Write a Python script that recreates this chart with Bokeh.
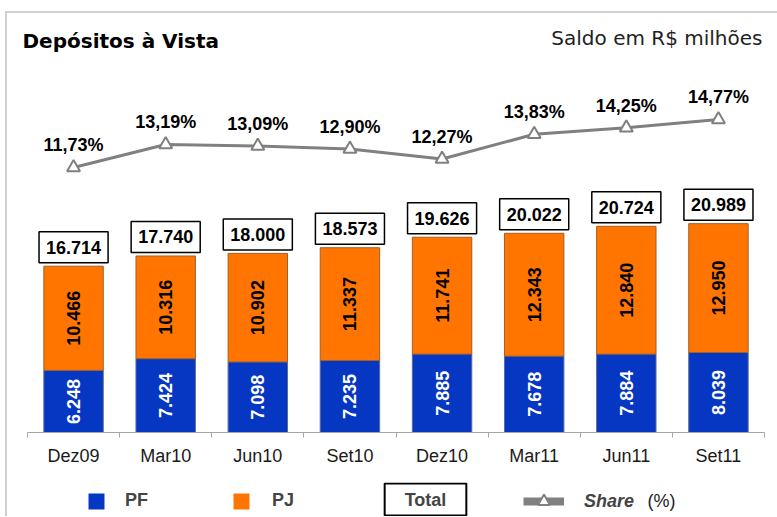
from bokeh.plotting import figure
from bokeh.layouts import column
from bokeh.models import (Range1d, LinearAxis, FixedTicker, Label, Legend,
                          LegendItem, ColumnDataSource)
from bokeh.core.properties import value
from bokeh.embed import file_html
from bokeh.resources import INLINE

# ---- data ----
categories = ["Dez09", "Mar10", "Jun10", "Set10", "Dez10", "Mar11", "Jun11", "Set11"]
pf = [6248, 7424, 7098, 7235, 7885, 7678, 7884, 8039]
pj = [10466, 10316, 10902, 11337, 11741, 12343, 12840, 12950]
total = [16714, 17740, 18000, 18573, 19626, 20022, 20724, 20989]
share = [11.73, 13.19, 13.09, 12.90, 12.27, 13.83, 14.25, 14.77]


def br_int(v):
    return f"{v:,}".replace(",", ".")


def br_pct(v):
    return f"{v:.2f}%".replace(".", ",")


BLUE = "#0537C3"
ORANGE = "#FF7500"
GRAY = "#808080"
NUM_FONT = "Liberation Sans"

xc = [i + 0.5 for i in range(len(categories))]
src = ColumnDataSource(dict(
    x=xc,
    pf=pf,
    stack=[a + b for a, b in zip(pf, pj)],
    total=total,
    share=share,
    pf_mid=[v / 2 for v in pf],
    pj_mid=[a + b / 2 for a, b in zip(pf, pj)],
    pf_lbl=[br_int(v) for v in pf],
    pj_lbl=[br_int(v) for v in pj],
    tot_lbl=[br_int(v) for v in total],
    sh_lbl=[br_pct(v) for v in share],
))

W, H1, H2 = 770, 469, 34
p = figure(width=W, height=H1, output_backend="svg", toolbar_location=None,
           x_range=Range1d(-0.217, 8.141), y_range=Range1d(0, 42110),
           min_border_left=0, min_border_right=0, min_border_top=0,
           min_border_bottom=50, x_axis_location=None, y_axis_location=None)
p.extra_y_ranges = {"share": Range1d(-5.05, 21.48)}
p.grid.visible = False
p.outline_line_color = None
p.background_fill_color = "white"
p.border_fill_color = "white"

# ---- axis ----
ax = LinearAxis(ticker=FixedTicker(ticks=xc, minor_ticks=list(range(len(categories) + 1))),
                major_label_overrides={x: c for x, c in zip(xc, categories)},
                bounds=(0, len(categories)))
ax.axis_line_color = "#a6a6a6"
ax.major_tick_in = 0
ax.major_tick_out = 0
ax.minor_tick_in = 0
ax.minor_tick_out = 5
ax.minor_tick_line_color = "#a6a6a6"
ax.major_label_standoff = 8
ax.major_label_text_font = "Liberation Sans"
ax.major_label_text_font_size = "18px"
ax.major_label_text_color = "#1a1a1a"
p.add_layout(ax, "below")

# ---- bars ----
p.vbar(x="x", bottom=0, top="pf", width=0.645, source=src,
       fill_color=BLUE, line_color="#5a6a9a", line_width=1)
p.vbar(x="x", bottom="pf", top="stack", width=0.645, source=src,
       fill_color=ORANGE, line_color="#a0602a", line_width=1)

p.text(x="x", y="pf_mid", text="pf_lbl", source=src, angle=1.5708,
       text_align="center", text_baseline="middle", text_color="white",
       text_font=value(NUM_FONT), text_font_style="bold", text_font_size="18px")
p.text(x="x", y="pj_mid", text="pj_lbl", source=src, angle=1.5708,
       text_align="center", text_baseline="middle", text_color="black",
       text_font=value(NUM_FONT), text_font_style="bold", text_font_size="18px")

p.text(x="x", y="total", text="tot_lbl", source=src, text_align="center",
       text_baseline="middle", y_offset=-19, text_color="black",
       text_font=value(NUM_FONT), text_font_style="bold", text_font_size="18px",
       background_fill_color="white", border_line_color="black",
       border_line_width=1.5, padding=dict(x=7, y=9))

# ---- share line ----
p.line(x="x", y="share", source=src, y_range_name="share",
       line_color=GRAY, line_width=3)
p.scatter(x="x", y="share", source=src, y_range_name="share", marker="triangle",
          size=13, fill_color="white", line_color=GRAY, line_width=2)
p.text(x="x", y="share", text="sh_lbl", source=src, y_range_name="share",
       text_align="center", text_baseline="middle", y_offset=-22,
       text_color="black", text_font=value(NUM_FONT), text_font_style="bold",
       text_font_size="18px")

# ---- titles ----
p.add_layout(Label(x=15, y=392, x_units="screen", y_units="screen",
                   text="Depósitos à Vista", text_font="DejaVu Sans",
                   text_font_style="bold", text_font_size="20px",
                   text_baseline="middle", text_color="black"))
p.add_layout(Label(x=755, y=395, x_units="screen", y_units="screen",
                   text="Saldo em R$ milhões", text_font="DejaVu Sans",
                   text_font_size="20px", text_align="right",
                   text_baseline="middle", text_color="#222222"))

# ---- legend strip ----
q = figure(width=W, height=H2, output_backend="svg", toolbar_location=None,
           x_range=Range1d(0, 8), y_range=Range1d(0, 1),
           min_border_left=0, min_border_right=0, min_border_top=0,
           min_border_bottom=0, x_axis_location=None, y_axis_location=None)
q.grid.visible = False
q.outline_line_color = None
q.border_fill_color = "white"

lg_pf = q.vbar(x="x", top="pf", width=0.5, source=src, fill_color=BLUE,
               line_color=None, visible=False)
lg_pj = q.vbar(x="x", top="pj", width=0.5, source=src, fill_color=ORANGE,
               line_color=None, visible=False)
lg_line = q.line(x="x", y="share", source=src, line_color=GRAY, line_width=8,
                 visible=False)
lg_mark = q.scatter(x="x", y="share", source=src, marker="triangle", size=12,
                    fill_color="white", line_color=GRAY, line_width=2, visible=False)


def mk_legend(label, renderers, loc, gw, gh, standoff, style):
    return Legend(items=[LegendItem(label=label, renderers=renderers)],
                  location=loc, orientation="horizontal", glyph_width=gw,
                  glyph_height=gh, label_standoff=standoff, padding=0, margin=0,
                  spacing=0, border_line_color=None, background_fill_alpha=0,
                  label_text_font=NUM_FONT, label_text_font_style=style,
                  label_text_font_size="18px", label_height=gh)


q.add_layout(mk_legend("PF", [lg_pf], (79, 5), 20, 20, 19, "bold"))
q.add_layout(mk_legend("PJ", [lg_pj], (224, 5), 20, 20, 21, "bold"))
q.add_layout(mk_legend("Share", [lg_line, lg_mark], (516, 0), 41, 30, 20, "bold italic"))

q.add_layout(Label(x=418, y=17, x_units="screen", y_units="screen", text="Total",
                   text_font=NUM_FONT, text_font_style="bold", text_font_size="18px",
                   text_align="center", text_baseline="middle",
                   background_fill_color="white", border_line_color="black",
                   border_line_width=2, padding=dict(x=20, y=6)))
q.add_layout(Label(x=640, y=16, x_units="screen", y_units="screen", text="(%)",
                   text_font=NUM_FONT, text_font_size="18px",
                   text_baseline="middle", text_color="#222222"))

layout = column(p, q, spacing=0)
layout.styles = {"margin-left": "5px", "margin-top": "11px",
                 "border-left": "2px solid #d0d0d0", "border-top": "2px solid #d0d0d0"}

open("out.html", "w").write(file_html(layout, INLINE))
